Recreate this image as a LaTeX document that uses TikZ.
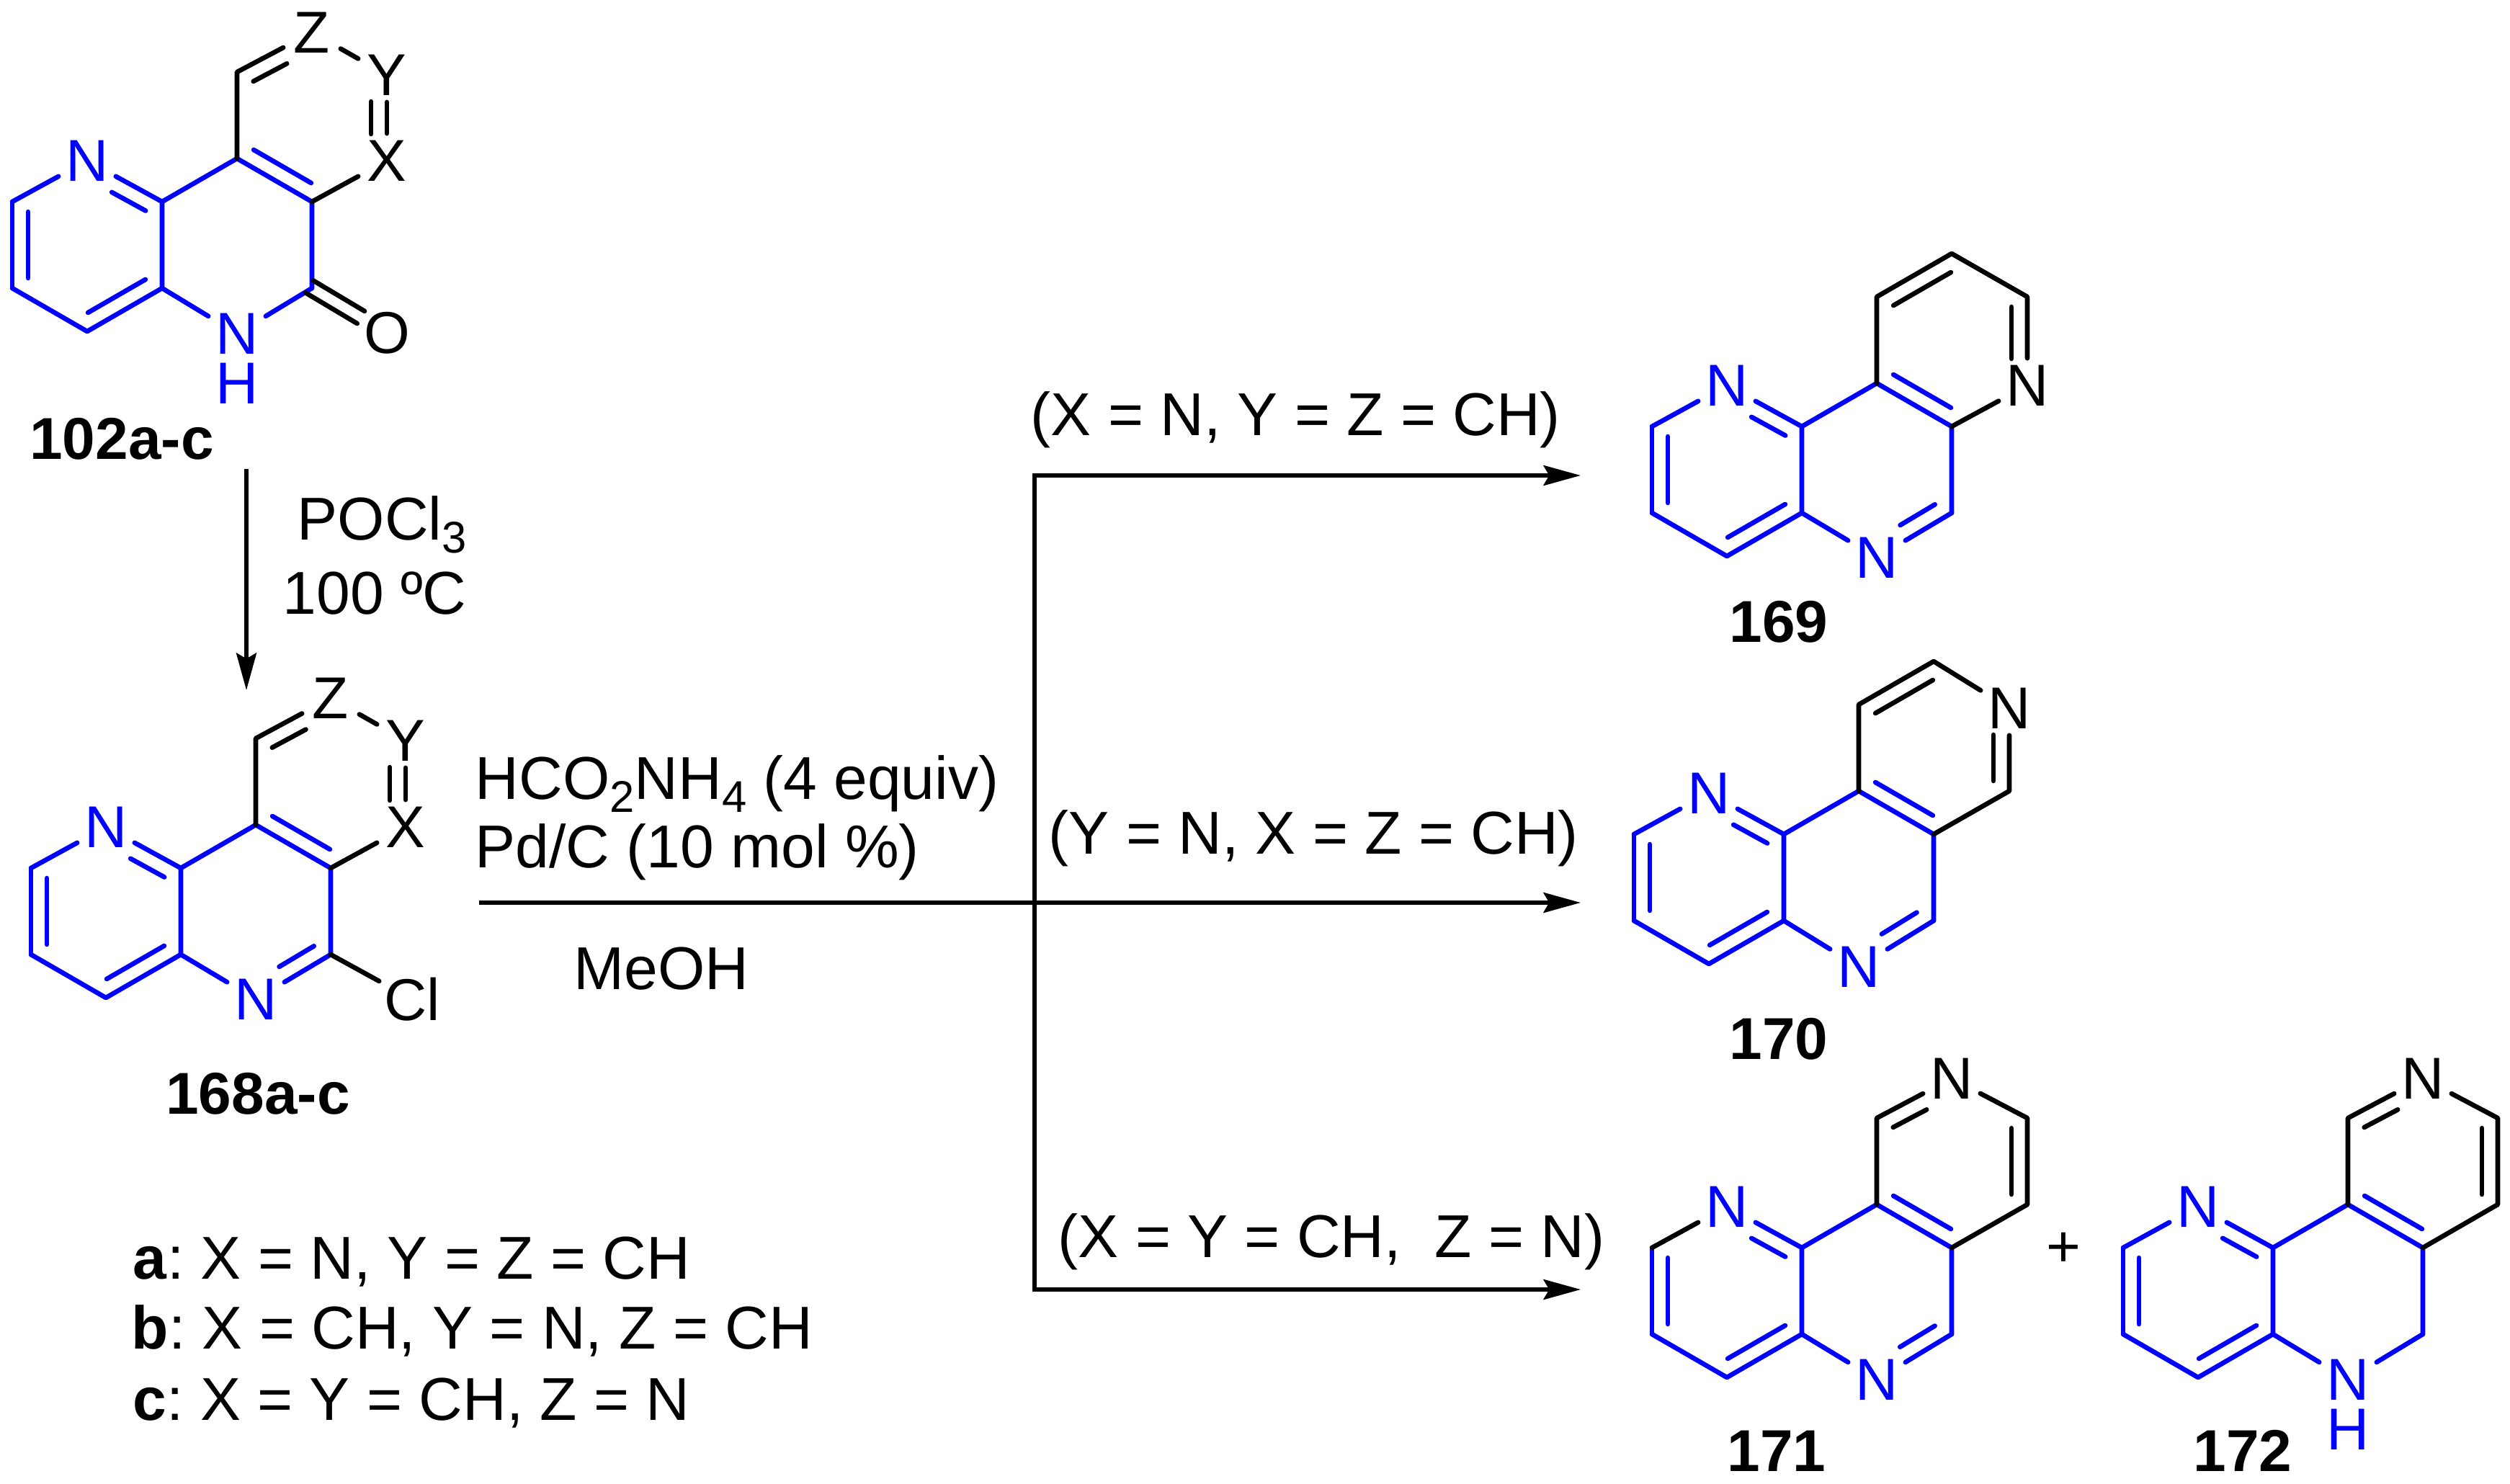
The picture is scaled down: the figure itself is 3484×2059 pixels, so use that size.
\documentclass[tikz,border=0pt]{standalone}
\usepackage{fontspec}
\setmainfont[Kerning=Off]{Liberation Sans}
\usetikzlibrary{calc,arrows.meta}
\definecolor{chemblue}{RGB}{0,0,255}
\frenchspacing
\newcommand\chsub[1]{\raisebox{-4.5pt}{\fontsize{15.4}{15.4}\selectfont #1}}
\tikzset{
  blu/.style={draw=chemblue,line width=1.65pt,line cap=round,line join=round},
  blk/.style={draw=black,line width=1.65pt,line cap=round,line join=round},
  rxn/.style={draw=black,line width=1.375pt,line join=miter},
  head/.tip={Stealth[length=12.9pt,width=7pt,inset=2pt]},
  atom/.style={rectangle,inner sep=0pt,minimum width=19.5pt,minimum height=18.5pt,text=black,font=\fontsize{20.5}{24}\selectfont},
  batom/.style={atom,text=chemblue},
  hatom/.style={rectangle,inner sep=0pt,text=chemblue,font=\fontsize{20.5}{24}\selectfont},
  txt/.style={anchor=base west,inner sep=0pt,font=\fontsize{21}{24}\selectfont},
  lab/.style={anchor=base,inner sep=0pt,font=\bfseries\fontsize{20.5}{24}\selectfont}
}
% inner line of a double bond, on the left (inL) or right (inR) of the way from #2 to #3
\newcommand\inL[5]{\draw[#1,shorten <=#4,shorten >=#5] ($(#2)!5.5pt!90:(#3)$) -- ($(#3)!5.5pt!-90:(#2)$);}
\newcommand\inR[5]{\draw[#1,shorten <=#4,shorten >=#5] ($(#2)!5.5pt!-90:(#3)$) -- ($(#3)!5.5pt!90:(#2)$);}
% the shared pyridine and central ring skeleton; #1 prefix, #2 style of the a-N bond, #3 y of lower N
\newcommand\core[3]{%
  \coordinate (#1a) at (-208,0);
  \coordinate (#1aa) at (-208,120);
  \coordinate (#1b) at (-104,180);
  \coordinate (#1c) at (0,120);
  \coordinate (#1d) at (0,0);
  \coordinate (#1e) at (104,-60);
  \coordinate (#1f) at (208,0);
  \coordinate (#1g) at (208,120);
  \node[batom] (#1N) at (-104,-57) {N};
  \node[batom] (#1M) at (104,#3) {N};
  \draw[blu] (#1aa) -- (#1a);
  \draw[blu] (#1aa) -- (#1b) -- (#1c) -- (#1d) -- (#1e) -- (#1f) -- (#1g);
  \draw[blu] (#1N) -- (#1d);
  \draw[blu] (#1c) -- (#1M);
  \inL{blu}{#1a}{#1aa}{3.5pt}{3.5pt}
  \inL{blu}{#1b}{#1c}{3.5pt}{3.5pt}
  \inR{blu}{#1N}{#1d}{12.75pt}{3.5pt}
  \inL{blu}{#1e}{#1f}{3.5pt}{3.5pt}
  \draw[#2] (#1a) -- (#1N);
}
\begin{document}
\begin{tikzpicture}[x=0.25pt,y=-0.25pt]
\useasboundingbox (0,0) rectangle (3484,2059);

% ---- 102a-c
\begin{scope}[shift={(225,280)}]
  \core{p}{blu}{183}
  \node[hatom] (pH) at (104,252) {H};
  \coordinate (pt) at (104,-180);
  \node[atom] (pZ) at (208,-235) {Z};
  \node[atom] (pY) at (312,-176) {Y};
  \node[atom] (pX) at (312,-57) {X};
  \node[atom] (pO) at (312,182) {O};
  \draw[blu] (pg) -- (pM);
  \draw[blk] (pe) -- (pt) -- (pZ);
  \inR{blk}{pt}{pZ}{3.5pt}{12.75pt}
  \draw[blk] (pZ) -- (pY);
  \draw[blk] (pY) -- (pX);
  \inR{blk}{pY}{pX}{9.25pt}{9.25pt}
  \draw[blk] (pf) -- (pX);
  \draw[blk,shorten <=-1pt,shorten >=10.5pt] ($(pg)!2.5pt!90:(pO)$) -- ($(pO)!2.5pt!-90:(pg)$);
  \draw[blk,shorten <=-1pt,shorten >=10.5pt] ($(pg)!2.5pt!-90:(pO)$) -- ($(pO)!2.5pt!90:(pg)$);
\end{scope}
\node[lab] (l102) at (169,637) {102a-c};

% ---- 168a-c
\begin{scope}[shift={(251,1205)}]
  \core{q}{blu}{182}
  \coordinate (qt) at (104,-180);
  \node[atom] (qZ) at (208,-236) {Z};
  \node[atom] (qY) at (312,-177) {Y};
  \node[atom] (qX) at (312,-57) {X};
  \node[inner sep=0pt,outer sep=1.75pt,font=\fontsize{20.5}{24}\selectfont] (qCl) at (321,182) {Cl};
  \draw[blu] (qg) -- (qM);
  \inR{blu}{qg}{qM}{3.5pt}{12.75pt}
  \draw[blk] (qe) -- (qt) -- (qZ);
  \inR{blk}{qt}{qZ}{3.5pt}{12.75pt}
  \draw[blk] (qZ) -- (qY);
  \draw[blk] (qY) -- (qX);
  \inR{blk}{qY}{qX}{9.25pt}{9.25pt}
  \draw[blk] (qf) -- (qX);
  \draw[blk] (qg) -- (qCl);
\end{scope}
\node[lab] (l168) at (358,1546) {168a-c};

% ---- 169
\begin{scope}[shift={(2501,592)}]
  \core{r}{blu}{182}
  \coordinate (rt) at (104,-180);
  \coordinate (rZ) at (208,-240);
  \coordinate (rY) at (313,-180);
  \node[atom] (rX) at (313,-57) {N};
  \draw[blu] (rg) -- (rM);
  \inR{blu}{rg}{rM}{3.5pt}{12.75pt}
  \draw[blk] (re) -- (rt) -- (rZ) -- (rY) -- (rX);
  \inR{blk}{rt}{rZ}{3.5pt}{3.5pt}
  \inR{blk}{rY}{rX}{3.5pt}{9.25pt}
  \draw[blk] (rf) -- (rX);
\end{scope}
\node[lab] (l169) at (2469,891) {169};

% ---- 170
\begin{scope}[shift={(2476,1158)}]
  \core{s}{blu}{184}
  \coordinate (st) at (104,-180);
  \coordinate (sZ) at (208,-240);
  \node[atom] (sY) at (313,-175) {N};
  \coordinate (sX) at (313,-60);
  \draw[blu] (sg) -- (sM);
  \inR{blu}{sg}{sM}{3.5pt}{12.75pt}
  \draw[blk] (se) -- (st) -- (sZ) -- (sY) -- (sX) -- (sf);
  \inR{blk}{st}{sZ}{3.5pt}{3.5pt}
  \inR{blk}{sY}{sX}{9.25pt}{3.5pt}
\end{scope}
\node[lab] (l170) at (2469,1470) {170};

% ---- 171
\begin{scope}[shift={(2501,1732)}]
  \core{u}{blk}{183}
  \coordinate (ut) at (104,-180);
  \node[atom] (uZ) at (208,-235) {N};
  \coordinate (uY) at (313,-180);
  \coordinate (uX) at (313,-60);
  \draw[blu] (ug) -- (uM);
  \inR{blu}{ug}{uM}{3.5pt}{12.75pt}
  \draw[blk] (ue) -- (ut) -- (uZ) -- (uY) -- (uX) -- (uf);
  \inR{blk}{ut}{uZ}{3.5pt}{12.75pt}
  \inR{blk}{uY}{uX}{3.5pt}{3.5pt}
\end{scope}
\node[lab] (l171) at (2466,2042) {171};

% ---- 172
\begin{scope}[shift={(3155,1732)}]
  \core{v}{blu}{183}
  \node[hatom] (vH) at (104,252) {H};
  \coordinate (vt) at (104,-180);
  \node[atom] (vZ) at (208,-235) {N};
  \coordinate (vY) at (312,-180);
  \coordinate (vX) at (312,-60);
  \draw[blu] (vg) -- (vM);
  \draw[blk] (ve) -- (vt) -- (vZ) -- (vY) -- (vX) -- (vf);
  \inR{blk}{vt}{vZ}{3.5pt}{12.75pt}
  \inR{blk}{vY}{vX}{3.5pt}{3.5pt}
\end{scope}
\node[lab] (l172) at (3113,2042) {172};

\node[inner sep=0pt,font=\fontsize{20.5}{24}\selectfont] (plus) at (2864,1735) {+};

% ---- arrows
\coordinate (a1s) at (342,651);
\coordinate (a1e) at (342,958);
\draw[rxn,-{head}] (a1s) -- (a1e);
\coordinate (mainS) at (665,1253);
\coordinate (mainE) at (2194,1253);
\draw[rxn,-{head}] (mainS) -- (mainE);
\coordinate (brT) at (1436,660);
\coordinate (brB) at (1436,1790);
\coordinate (topE) at (2194,660);
\coordinate (botE) at (2194,1790);
\draw[rxn,{head}-{head}] (topE) -- (brT) -- (brB) -- (botE);

% ---- texts
\node[txt] (t1) at (412,749) {POCl\chsub{3}};
\node[txt] (t2) at (392,852) {100 ºC};
\node[txt] (t3) at (659,1109) {HCO\chsub{2}NH\chsub{4} (4 equiv)};
\node[txt] (t4) at (659,1204) {Pd/C (10 mol \%)};
\node[txt] (t5) at (796,1373) {MeOH};
\node[txt] (c1) at (1430,604) {(X = N, Y = Z = CH)};
\node[txt] (c2) at (1455,1185) {(Y = N, X = Z = CH)};
\node[txt] (c3) at (1468,1745) {(X = Y = CH,\ \ Z = N)};
\node[txt] (k1) at (184,1775) {\textbf{a}: X = N, Y = Z = CH};
\node[txt] (k2) at (182,1872) {\textbf{b}: X = CH, Y = N, Z = CH};
\node[txt] (k3) at (184,1971) {\textbf{c}: X = Y = CH, Z = N};
\end{tikzpicture}
\end{document}
